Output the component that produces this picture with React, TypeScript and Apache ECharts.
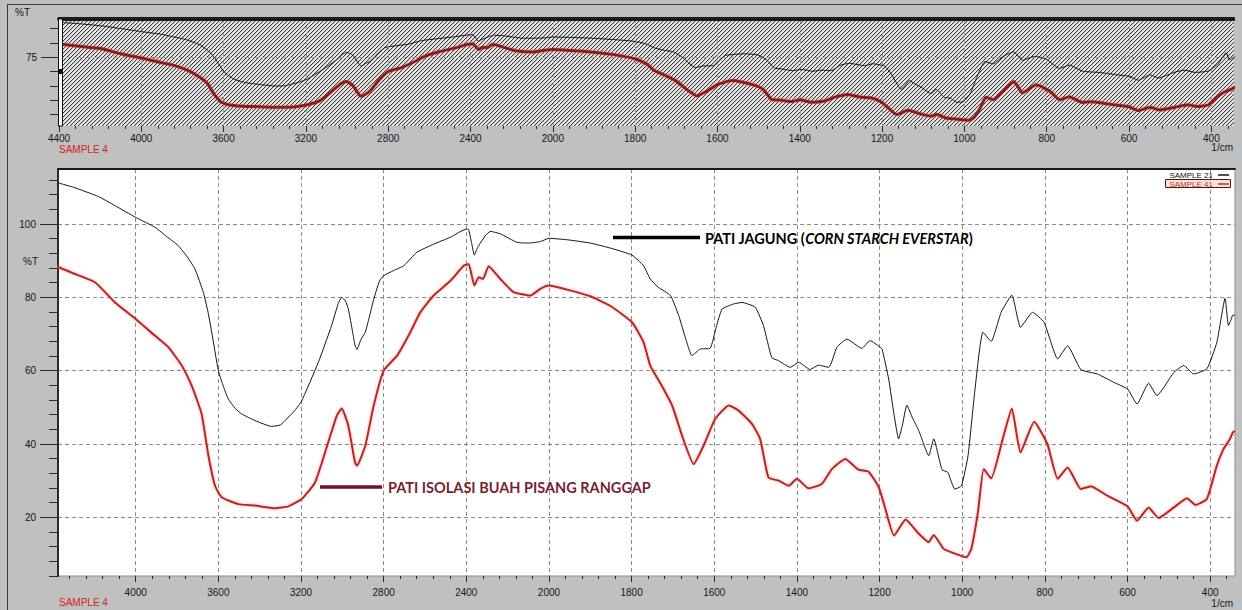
import React, { useEffect, useRef } from "react";
import * as echarts from "echarts";

// FTIR transmittance spectra (%T against wavenumber, 1/cm)
const cornWn = [
  4400, 4374, 4300, 4181, 4100, 4000, 3906, 3850, 3794, 3750, 3713, 3673, 3650, 3632, 3600, 3575,
  3552, 3520, 3487, 3423, 3342, 3300, 3277, 3240, 3200, 3116, 3052, 3020, 3003, 2985, 2971, 2950, 2939, 2929,
  2910, 2889, 2870, 2848, 2820, 2800, 2752, 2703, 2639, 2558, 2477, 2400, 2389, 2375, 2361, 2350,
  2340, 2308, 2284, 2235, 2155, 2100, 2042, 2000, 1956, 1900, 1844, 1799, 1771, 1755, 1735, 1706,
  1686, 1670, 1654, 1634, 1610, 1595, 1581, 1553, 1533, 1501, 1481, 1461, 1444, 1416, 1396, 1368,
  1348, 1323, 1303, 1279, 1243, 1223, 1200, 1194, 1178, 1165, 1154, 1145, 1134, 1120, 1105, 1081,
  1069, 1049, 1035, 1018, 1002, 986, 970, 950, 930, 906, 880, 859, 830, 802, 769, 745, 713, 673,
  633, 600, 577, 549, 529, 488, 464, 440, 408, 384, 364, 356, 352, 345, 340,
];
const cornT = [
  111.8, 111.2, 110.0, 107.5, 105.0, 101.8, 99.1, 96.6, 94.1, 91.0, 87.7, 81.4, 76.0, 70.5, 60.0, 55.6,
  52.3, 49.8, 48.2, 46.4, 44.8, 45.2, 46.4, 48.5, 51.4, 62.3, 72.3, 78.3, 80.0, 79.0, 76.8, 70.5, 67.0, 65.8,
  68.5, 70.5, 74.5, 79.5, 84.5, 85.9, 87.3, 88.6, 92.3, 94.5, 96.4, 98.6, 98.5, 95.0, 91.5, 93.0,
  94.1, 96.8, 98.0, 97.3, 95.0, 94.8, 95.2, 96.1, 95.7, 94.8, 93.2, 91.5, 88.6, 85.0, 82.7, 80.5,
  75.0, 69.0, 64.1, 65.9, 66.1, 72.0, 76.8, 78.2, 78.6, 77.3, 72.3, 63.6, 62.7, 60.9, 62.3, 60.3,
  61.5, 60.9, 66.4, 68.6, 66.1, 68.2, 66.5, 65.9, 57.7, 48.0, 41.4, 45.0, 50.6, 47.0, 43.6, 36.8,
  41.4, 33.0, 32.3, 27.7, 28.6, 36.8, 54.0, 70.5, 68.0, 75.9, 80.6, 71.8, 75.9, 73.2, 63.2, 66.8, 60.3, 59.1,
  56.8, 55.0, 50.9, 56.6, 53.2, 59.5, 61.4, 59.1, 60.5, 67.7, 79.7, 72.3, 73.2, 75.2, 75.0,
];

const pisangWn = [
  4400, 4374, 4300, 4197, 4100, 4000, 3906, 3842, 3777, 3729, 3681, 3648, 3616, 3584, 3503, 3423,
  3326, 3261, 3197, 3132, 3068, 3027, 3003, 2971, 2939, 2929, 2889, 2848, 2800, 2735, 2671, 2623,
  2558, 2477, 2413, 2389, 2361, 2340, 2319, 2292, 2235, 2171, 2090, 2042, 2000, 1956, 1900, 1852,
  1799, 1771, 1755, 1727, 1702, 1678, 1650, 1626, 1598, 1565, 1541, 1509, 1489, 1469, 1444, 1420,
  1400, 1372, 1340, 1315, 1283, 1251, 1227, 1202, 1186, 1165, 1137, 1105, 1081, 1069, 1045, 1027,
  990, 978, 962, 948, 930, 902, 880, 859, 826, 794, 769, 745, 713, 689, 649, 600, 577, 549, 525,
  488, 456, 436, 408, 384, 368, 352, 345, 340,
];
const pisangT = [
  88.6, 88.2, 86.5, 84.1, 78.6, 74.1, 69.5, 66.4, 61.4, 55.9, 48.2, 36.8, 28.6, 25.5, 23.6, 23.2,
  22.5, 23.0, 25.0, 29.5, 40.5, 47.7, 49.7, 45.0, 35.0, 34.1, 39.5, 50.5, 60.0, 64.1, 70.5, 75.9,
  80.5, 84.5, 88.6, 89.1, 83.2, 85.5, 85.0, 88.5, 85.0, 81.4, 80.5, 82.3, 83.2, 82.1, 80.3, 77.7,
  73.2, 67.7, 61.4, 55.9, 50.5, 42.3, 34.5, 39.5, 46.8, 50.5, 49.1, 45.5, 41.4, 30.9, 30.0, 28.6,
  30.5, 27.9, 29.1, 33.2, 35.9, 33.0, 32.5, 28.2, 22.3, 15.0, 19.4, 15.5, 13.2, 15.2, 11.4, 10.5,
  9.1, 11.4, 21.4, 33.2, 30.6, 41.4, 49.7, 37.7, 46.1, 40.0, 30.5, 33.6, 27.7, 28.5, 25.9, 23.0, 19.1, 22.7, 19.8,
  22.7, 25.2, 23.4, 25.0, 34.1, 38.6, 41.4, 43.2, 43.5,
];

const seriesNames = ["SAMPLE 21", "SAMPLE 41"];
const sampleCaption = "SAMPLE 4";
const unitCaption = "1/cm";
const yCaption = "%T";
const cornLabel = ["PATI JAGUNG (", "CORN STARCH EVERSTAR", ")"];
const pisangLabel = "PATI ISOLASI BUAH PISANG RANGGAP";

// labelled wavenumbers on the horizontal axes
const xMajorWn = [4400, 4000, 3600, 3200, 2800, 2400, 2000, 1800, 1600, 1400, 1200, 1000, 800, 600, 400];
const mainYMajor = [20, 40, 60, 80, 100];
const topYMajor = [75];
const topYMinor = [15, 30, 45, 60, 90, 105];

// The spectrometer plots 4000-2000 1/cm at half the scale of 2000-400 1/cm,
// so wavenumbers are placed on a linear "position" axis.
const toPos = (wn: number) => (wn > 2000 ? 2000 + (wn - 2000) / 2 : wn);
const fromPos = (p: number) => (p > 2000 ? 2000 + (p - 2000) * 2 : p);

const xMajorPos = xMajorWn.map(toPos);
const xMinorPos: number[] = [];
for (let p = 360; p <= 3160; p += 40) if (p % 200 !== 0) xMinorPos.push(p);
const mainYMinor: number[] = [];
for (let v = 4; v <= 112; v += 4) if (v % 20 !== 0) mainYMinor.push(v);

const FONT = "Liberation Sans, Arial, sans-serif";
const AXIS_TEXT = { fontSize: 10, color: "#151515", fontFamily: FONT };
const TICK = "#2a2a2a";

function makeHatch() {
  const c = document.createElement("canvas");
  c.width = 4;
  c.height = 4;
  const ctx = c.getContext("2d")!;
  ctx.fillStyle = "#ececec";
  ctx.fillRect(0, 0, 4, 4);
  for (let i = 0; i < 4; i++) {
    ctx.fillStyle = "#383838";
    ctx.fillRect(3 - i, i, 1, 1);
    ctx.fillStyle = "#c2c2c2";
    ctx.fillRect((4 - i) % 4, i, 1, 1);
  }
  return { image: c, repeat: "repeat", imageWidth: 4, imageHeight: 4 };
}

function xAxes(gridIndex: number, min: number, max: number, labelMargin: number, topLineWidth: number, gridColor: string) {
  return [
    {
      type: "value", gridIndex, min, max, inverse: true, position: "bottom",
      axisLine: { show: false },
      axisTick: { customValues: xMajorPos, length: 6, lineStyle: { color: TICK } },
      axisLabel: { customValues: xMajorPos, margin: labelMargin, ...AXIS_TEXT, formatter: (v: number) => String(Math.round(fromPos(v))) },
      splitLine: { show: true, lineStyle: { type: [4, 3], color: gridColor, width: 1 } },
    },
    {
      type: "value", gridIndex, min, max, inverse: true, position: "bottom",
      axisLine: { show: false },
      axisTick: { customValues: xMinorPos, length: 3, lineStyle: { color: TICK } },
      axisLabel: { show: false },
      splitLine: { show: false },
    },
    {
      type: "value", gridIndex, min, max, inverse: true, position: "top",
      axisLine: { show: true, lineStyle: { color: "#1a1a1a", width: topLineWidth } },
      axisTick: { show: false }, axisLabel: { show: false }, splitLine: { show: false },
    },
  ];
}

function yAxes(gridIndex: number, min: number, max: number, major: number[], minor: number[], gridColor: string) {
  return [
    {
      type: "value", gridIndex, min, max, position: "left",
      axisLine: { show: true, lineStyle: { color: TICK, width: 2 } },
      axisTick: { customValues: major, length: 18, lineStyle: { color: TICK } },
      axisLabel: { customValues: major, margin: 22, ...AXIS_TEXT },
      splitLine: { show: true, lineStyle: { type: [4, 3], color: gridColor, width: 1 } },
    },
    {
      type: "value", gridIndex, min, max, position: "left", offset: 0,
      axisLine: { show: false },
      axisTick: { customValues: minor, length: 9, lineStyle: { color: TICK } },
      axisLabel: { show: false },
      splitLine: { show: false },
    },
  ];
}

const toPairs = (wn: number[], t: number[]) => wn.map((w, i) => [toPos(w), t[i]]);

export default function App() {
  const ref = useRef<HTMLDivElement>(null);

  useEffect(() => {
    if (!ref.current) return;
    const chart = echarts.init(ref.current, undefined, { renderer: "svg" });
    const corn = toPairs(cornWn, cornT);
    const pisang = toPairs(pisangWn, pisangT);

    const redGlow = { shadowColor: "rgba(240,110,110,0.55)", shadowBlur: 3 };

    chart.setOption({
      animation: false,
      backgroundColor: "#c0c0c0",
      textStyle: { fontFamily: FONT },
      grid: [
        { left: 58, right: 7, top: 169, bottom: 34, show: true, backgroundColor: "#ffffff", borderColor: "#8c8c8c", borderWidth: 1 },
        { left: 59, right: 8, top: 19, bottom: 484, show: true, backgroundColor: makeHatch(), borderWidth: 0 },
      ],
      xAxis: [
        ...xAxes(0, toPos(340), toPos(4376), 11, 2, "#8a8a8a"),
        ...xAxes(1, toPos(345), toPos(4400), 7, 4, "#9a9a9a"),
      ],
      yAxis: [
        ...yAxes(0, 4, 115, mainYMajor, mainYMinor, "#8a8a8a"),
        ...yAxes(1, 3, 115, topYMajor, topYMinor, "#9a9a9a"),
      ],
      legend: {
        data: [
          { name: seriesNames[0], textStyle: { color: "#111111" } },
          { name: seriesNames[1], textStyle: { color: "#c8302c" } },
        ],
        orient: "vertical", right: 13, top: 171, align: "right", icon: "rect",
        itemWidth: 11, itemHeight: 1.5, itemGap: 1, selectedMode: false, z: 5,
        textStyle: { fontSize: 8, fontFamily: FONT, padding: [0, 0, 0, 0], lineHeight: 8 },
        padding: 0,
      },
      series: [
        { name: seriesNames[0], type: "line", xAxisIndex: 0, yAxisIndex: 0, data: corn, symbol: "none", z: 3, smooth: 0.15,
          lineStyle: { color: "#141414", width: 1 }, itemStyle: { color: "#141414" } },
        { name: seriesNames[1], type: "line", xAxisIndex: 0, yAxisIndex: 0, data: pisang, symbol: "none", z: 4, smooth: 0.15,
          lineStyle: { color: "#bb2622", width: 2, ...redGlow }, itemStyle: { color: "#c0302a" } },
        { name: seriesNames[0], type: "line", xAxisIndex: 3, yAxisIndex: 2, data: corn, symbol: "none", z: 3, smooth: 0.15,
          lineStyle: { color: "#141414", width: 1 } },
        { name: seriesNames[1], type: "line", xAxisIndex: 3, yAxisIndex: 2, data: pisang, symbol: "none", z: 4, smooth: 0.15,
          lineStyle: { color: "#8a1c1c", width: 3, ...redGlow } },
      ],
      graphic: [
        // plain window margin to the right of the overview
        { type: "rect", z: 9, shape: { x: 1235, y: 5, width: 7, height: 140 }, style: { fill: "#c0c0c0" } },
        // window frame
        { type: "line", z: 10, shape: { x1: 7, y1: 4.5, x2: 1242, y2: 4.5 }, style: { stroke: "#3a3a3a", lineWidth: 1 } },
        { type: "line", z: 10, shape: { x1: 7.5, y1: 4, x2: 7.5, y2: 610 }, style: { stroke: "#3a3a3a", lineWidth: 1 } },
        // cursor bar on the overview
        { type: "rect", z: 10, shape: { x: 58.5, y: 19, width: 4, height: 107 }, style: { fill: "#ffffff", stroke: "#111111", lineWidth: 1 } },
        { type: "rect", z: 10, shape: { x: 59, y: 69, width: 4, height: 5 }, style: { fill: "#111111" } },
        // captions
        { type: "text", z: 10, x: 15, y: 12, style: { text: yCaption, fill: "#151515", font: `10px ${FONT}`, verticalAlign: "middle" } },
        { type: "text", z: 10, x: 23, y: 261, style: { text: yCaption, fill: "#151515", font: `10px ${FONT}`, verticalAlign: "middle" } },
        { type: "text", z: 10, x: 59, y: 149, style: { text: sampleCaption, fill: "#d42222", font: `10px ${FONT}`, verticalAlign: "middle" } },
        { type: "text", z: 10, x: 59, y: 602, style: { text: sampleCaption, fill: "#d42222", font: `10px ${FONT}`, verticalAlign: "middle" } },
        { type: "text", z: 10, x: 1233, y: 147, style: { text: unitCaption, fill: "#151515", font: `10px ${FONT}`, align: "right", verticalAlign: "middle" } },
        { type: "text", z: 10, x: 1233, y: 603, style: { text: unitCaption, fill: "#151515", font: `10px ${FONT}`, align: "right", verticalAlign: "middle" } },
        // highlighted legend entry box
        { type: "rect", z: 1, shape: { x: 1165.5, y: 179.5, width: 65, height: 8 }, style: { fill: "#f6e2d6", stroke: "#4a1a1a", lineWidth: 1 } },
        // spectrum annotations
        { type: "line", z: 10, shape: { x1: 613, y1: 237.5, x2: 700, y2: 237.5 }, style: { stroke: "#000000", lineWidth: 3.5 } },
        {
          type: "text", z: 10, x: 705, y: 238,
          style: {
            text: `{b|${cornLabel[0]}}{i|${cornLabel[1]}}{b|${cornLabel[2]}}`,
            verticalAlign: "middle",
            rich: {
              b: { fill: "#000000", fontFamily: "Lato", fontWeight: "bold", fontSize: 14.5 },
              i: { fill: "#000000", fontFamily: "Lato", fontWeight: "bold", fontStyle: "italic", fontSize: 14.5 },
            },
          },
        },
        { type: "line", z: 10, shape: { x1: 320, y1: 487, x2: 382, y2: 487 }, style: { stroke: "#6e1322", lineWidth: 3.5 } },
        {
          type: "text", z: 10, x: 388, y: 487,
          style: { text: pisangLabel, fill: "#7a1f33", font: `bold 14.5px Lato`, verticalAlign: "middle" },
        },
      ],
    });

    return () => chart.dispose();
  }, []);

  return (
    <div
      ref={ref}
      style={{ position: "absolute", left: 0, top: 0, width: 1242, height: 610, background: "#c0c0c0" }}
    />
  );
}
